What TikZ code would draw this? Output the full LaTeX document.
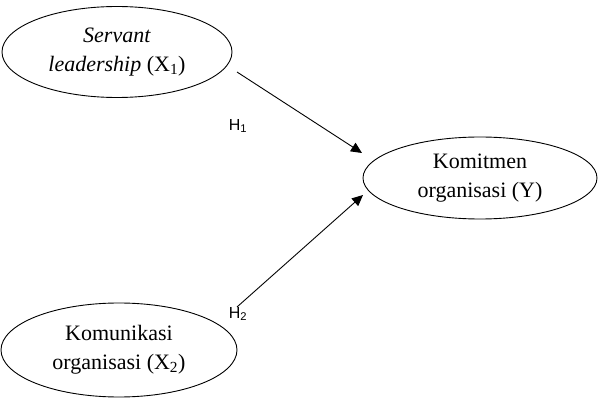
\documentclass[tikz,border=0pt]{standalone}
\usepackage{fontspec}
\setmainfont{Liberation Serif}
\newfontfamily\hypfont{Liberation Sans}
\usepackage{tikz}
\usetikzlibrary{arrows.meta,shapes.geometric}

\begin{document}
\begin{tikzpicture}[
 x=1pt,y=-1pt,
 var/.style={draw,ellipse,line width=0.9pt,inner sep=0pt,align=center,font=\fontsize{22}{29}\selectfont},
 arrow/.style={-{Triangle[length=11pt,width=10pt]},line width=0.9pt},
 hyp/.style={font=\hypfont\fontsize{16}{18}\selectfont,inner sep=0pt}
]
\useasboundingbox (0,0) rectangle (598,401);
\node[var,minimum width=230pt,minimum height=91pt] (servant) at (117,52) {\textit{Servant}\\\textit{leadership} (X\textsubscript{1})};
\node[var,minimum width=234pt,minimum height=82pt] (komitmen) at (480,178) {Komitmen\\organisasi (Y)};
\node[var,minimum width=236pt,minimum height=94pt] (komunikasi) at (119,350) {Komunikasi\\organisasi (X\textsubscript{2})};
\coordinate (h1start) at (237,72);
\coordinate (h1end) at (362,153);
\coordinate (h2start) at (237,307);
\coordinate (h2end) at (363,195);
\draw[arrow] (h1start)--(h1end);
\draw[arrow] (h2start)--(h2end);
\node[hyp] (h1) at (238,126) {H\textsubscript{1}};
\node[hyp] (h2) at (238,314) {H\textsubscript{2}};
\end{tikzpicture}
\end{document}
